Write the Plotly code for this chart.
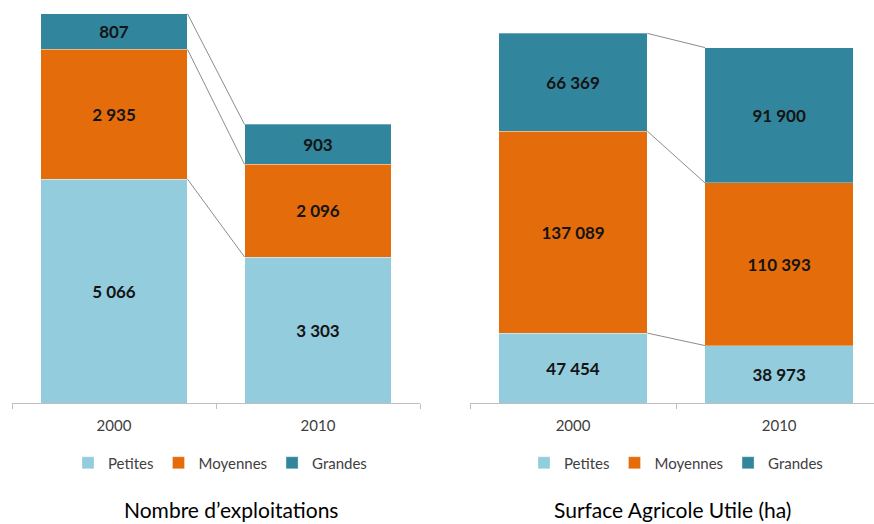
import plotly.graph_objects as go

# Data
years = ["2000", "2010"]
sizes = ["Petites", "Moyennes", "Grandes"]

# Nombre d'exploitations
expl_petites = [5066, 3303]
expl_moyennes = [2935, 2096]
expl_grandes = [807, 903]

# Surface Agricole Utile (ha)
sau_petites = [47454, 38973]
sau_moyennes = [137089, 110393]
sau_grandes = [66369, 91900]

colors = ["#93CDDD", "#E46C0A", "#31859C"]
FONT = "Lato"
BAR_W = 0.72

panels = [
    dict(series=[expl_petites, expl_moyennes, expl_grandes], xa="x", ya="y", legend="legend"),
    dict(series=[sau_petites, sau_moyennes, sau_grandes], xa="x2", ya="y2", legend="legend2"),
]

fig = go.Figure()
shapes = []
for p in panels:
    for name, vals, col in zip(sizes, p["series"], colors):
        fig.add_trace(go.Bar(
            x=years, y=vals, name=name,
            xaxis=p["xa"], yaxis=p["ya"], legend=p["legend"],
            width=BAR_W,
            marker=dict(color=col, line=dict(color="rgba(255,255,255,0.6)", width=0.5)),
            texttemplate="%{y:,}", textposition="inside", insidetextanchor="middle",
            textfont=dict(family=FONT, size=17, color="#141414", weight="bold"),
            constraintext="none",
            hoverinfo="skip",
        ))
    # connector lines between the stacked segment tops of the two years
    cum0 = cum1 = 0
    for vals in p["series"]:
        cum0 += vals[0]
        cum1 += vals[1]
        shapes.append(dict(
            type="line", xref=p["xa"], yref=p["ya"],
            x0=0 + BAR_W / 2, y0=cum0, x1=1 - BAR_W / 2, y1=cum1,
            line=dict(color="#8C8C8C", width=1),
        ))

xaxis_common = dict(
    type="category", showline=True, linecolor="#BFBFBF", linewidth=1,
    ticks="outside", ticklen=5, tickcolor="#BFBFBF", tickson="boundaries",
    tickfont=dict(family=FONT, size=15, color="#404040"),
    ticklabelstandoff=9,
    showgrid=False, zeroline=False, fixedrange=True,
)
y_bottom = (524 - 403) / 524
yaxis_common = dict(visible=False, domain=[y_bottom, 0.99], fixedrange=True)

legend_common = dict(
    orientation="h", xanchor="center", yanchor="middle", y=(524 - 463) / 524,
    traceorder="normal", itemwidth=30,
    font=dict(family=FONT, size=15, color="#404040"),
    bgcolor="rgba(0,0,0,0)", itemclick=False, itemdoubleclick=False,
)

fig.update_layout(
    width=874, height=524,
    margin=dict(l=0, r=0, t=0, b=0),
    paper_bgcolor="white", plot_bgcolor="white",
    barmode="stack", separators=", ",
    font=dict(family=FONT),
    xaxis=dict(xaxis_common, domain=[12 / 874, 420 / 874], range=[-0.5, 1.5]),
    xaxis2=dict(xaxis_common, domain=[470 / 874, 1.0], range=[-0.5, 1.46]),
    yaxis=dict(yaxis_common, range=[0, 9000]),
    yaxis2=dict(yaxis_common, range=[0, 270000]),
    legend=dict(legend_common, x=220 / 874),
    legend2=dict(legend_common, x=676 / 874),
    shapes=shapes,
    annotations=[
        dict(text="Nombre d’exploitations", xref="paper", yref="paper",
             x=231 / 874, y=(524 - 509) / 524, xanchor="center", yanchor="middle",
             showarrow=False, font=dict(family=FONT, size=21, color="black")),
        dict(text="Surface Agricole Utile (ha)", xref="paper", yref="paper",
             x=672 / 874, y=(524 - 509) / 524, xanchor="center", yanchor="middle",
             showarrow=False, font=dict(family=FONT, size=21, color="black")),
    ],
)

fig.write_html("out.html")
